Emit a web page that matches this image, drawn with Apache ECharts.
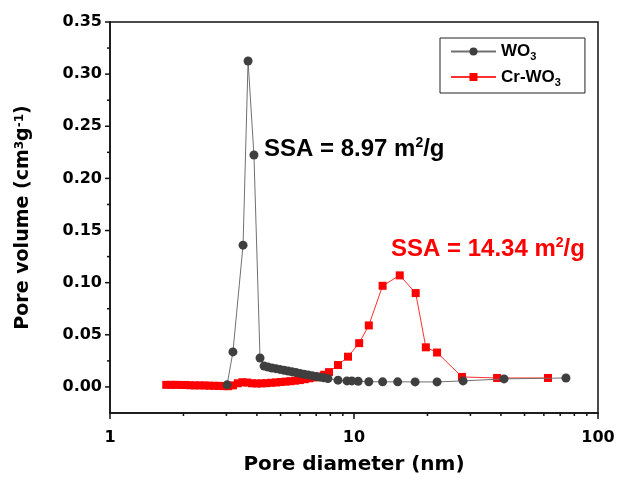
<!DOCTYPE html>
<html>
<head>
<meta charset="utf-8">
<script src="https://cdn.jsdelivr.net/npm/echarts@6/dist/echarts.min.js"></script>
<style>
  html, body { margin: 0; padding: 0; background: #fff; }
  #chart { width: 619px; height: 480px; }
</style>
</head>
<body>
<div id="chart"></div>
<script>
// pore size distribution
var wo3X = [3.02, 3.19, 3.51, 3.68, 3.89, 4.12, 4.28, 4.44, 4.61, 4.79, 4.97, 5.17, 5.37, 5.57, 5.78, 6.01, 6.24, 6.48, 6.73, 6.99, 7.26, 7.52, 7.82, 8.6, 9.36, 9.8, 10.4, 11.5, 13.1, 15.1, 17.8, 21.9, 28.0, 41.2, 73.9];
var wo3Y = [0.002, 0.0336, 0.136, 0.3126, 0.2224, 0.0278, 0.0200, 0.0190, 0.0182, 0.0175, 0.0168, 0.0160, 0.0152, 0.0145, 0.0138, 0.0130, 0.0122, 0.0115, 0.0108, 0.0100, 0.0094, 0.0088, 0.0080, 0.0065, 0.0058, 0.0058, 0.0055, 0.0050, 0.0049, 0.0049, 0.0048, 0.0048, 0.0058, 0.0077, 0.0086];

var crX = [1.70, 1.78, 1.86, 1.95, 2.04, 2.13, 2.23, 2.33, 2.44, 2.55, 2.67, 2.79, 2.92, 3.05, 3.19, 3.34, 3.49, 3.65, 3.82, 4.00, 4.18, 4.37, 4.58, 4.79, 5.01, 5.24, 5.48, 5.74, 6.00, 6.28, 6.57, 6.88, 7.20, 7.55, 7.90, 8.6, 9.45, 10.5, 11.5, 13.1, 15.4, 17.9, 19.7, 21.9, 27.7, 38.6, 62.4];
var crY = [0.0020, 0.0020, 0.0020, 0.0019, 0.0019, 0.0016, 0.0015, 0.0015, 0.0014, 0.0012, 0.0011, 0.0010, 0.0008, 0.0007, 0.0015, 0.0035, 0.0045, 0.0042, 0.0035, 0.0033, 0.0034, 0.0036, 0.0040, 0.0043, 0.0047, 0.0051, 0.0055, 0.0060, 0.0066, 0.0074, 0.0083, 0.0091, 0.0100, 0.0117, 0.0142, 0.021, 0.029, 0.042, 0.059, 0.097, 0.107, 0.090, 0.038, 0.033, 0.0096, 0.0086, 0.0086];

var yTicks = [0, 0.05, 0.10, 0.15, 0.20, 0.25, 0.30, 0.35];
var yMinorTicks = [0.025, 0.075, 0.125, 0.175, 0.225, 0.275, 0.325];
var xTicks = [1, 10, 100];
var xMinorTicks = [2, 3, 4, 5, 6, 7, 8, 9, 20, 30, 40, 50, 60, 70, 80, 90];

var yMin = -0.025, yMax = 0.35, xMin = 1, xMax = 100;

function zip(xs, ys) {
    return xs.map(function (x, i) { return [x, ys[i]]; });
}

// short tick marks drawn through the axes' own scales
function tickSeries(values, isX, len) {
    return {
        type: 'custom',
        silent: true,
        clip: false,
        z: 5,
        data: values.map(function (v) { return isX ? [v, yMin] : [xMin, v]; }),
        renderItem: function (params, api) {
            var p = api.coord([api.value(0), api.value(1)]);
            var shape = isX
                ? { x1: p[0], y1: p[1], x2: p[0], y2: p[1] + len }
                : { x1: p[0], y1: p[1], x2: p[0] - len, y2: p[1] };
            return { type: 'line', shape: shape, style: { stroke: '#111', lineWidth: 1.5 } };
        }
    };
}

var axisFont = 'DejaVu Sans';
var txtFont = 'Liberation Sans';

var chart = echarts.init(document.getElementById('chart'));

chart.setOption({
    animation: false,
    grid: {
        left: 110,
        right: 21,
        top: 22,
        bottom: 67,
        show: true,
        borderColor: '#111',
        borderWidth: 1.5
    },
    legend: {
        orient: 'vertical',
        left: 440,
        top: 38,
        padding: [5, 24, 5, 10],
        itemGap: 6,
        itemWidth: 45,
        itemHeight: 10,
        borderColor: '#222',
        borderWidth: 1,
        data: ['WO3', 'Cr-WO3'],
        formatter: function (name) {
            return name === 'WO3' ? '{b|WO}{s|3}' : '{b|Cr-WO}{s|3}';
        },
        textStyle: {
            rich: {
                b: { fontFamily: txtFont, fontWeight: 'bold', fontSize: 17, color: '#000', lineHeight: 22 },
                s: { fontFamily: txtFont, fontWeight: 'bold', fontSize: 11, color: '#000', lineHeight: 22, verticalAlign: 'bottom' }
            }
        }
    },
    xAxis: {
        type: 'log',
        logBase: 10,
        min: xMin,
        max: xMax,
        name: 'Pore diameter (nm)',
        nameLocation: 'middle',
        nameGap: 42,
        nameTextStyle: { fontFamily: axisFont, fontWeight: 'bold', fontSize: 20, color: '#000' },
        axisLine: { show: true, onZero: false, lineStyle: { color: '#111', width: 1.5 } },
        axisTick: { show: false },
        axisLabel: {
            customValues: xTicks,
            margin: 17,
            fontFamily: axisFont, fontWeight: 'bold', fontSize: 16, color: '#000'
        },
        splitLine: { show: false }
    },
    yAxis: {
        type: 'value',
        min: yMin,
        max: yMax,
        interval: 0.025,
        name: 'Pore volume (cm{sup|3}g{sup|-1})',
        nameLocation: 'middle',
        nameGap: 77,
        nameTextStyle: {
            fontFamily: axisFont, fontWeight: 'bold', fontSize: 19, color: '#000',
            rich: {
                sup: { fontFamily: axisFont, fontWeight: 'bold', fontSize: 12, color: '#000', verticalAlign: 'top', lineHeight: 12 }
            }
        },
        axisLine: { show: true, onZero: false, lineStyle: { color: '#111', width: 1.5 } },
        axisTick: { show: false },
        axisLabel: {
            customValues: yTicks,
            margin: 8,
            formatter: function (v) { return v.toFixed(2); },
            fontFamily: axisFont, fontWeight: 'bold', fontSize: 16, color: '#000'
        },
        splitLine: { show: false }
    },
    graphic: [
        {
            type: 'text',
            left: 264,
            top: 136,
            style: {
                text: '{a|SSA = 8.97 m}{p|2}{a|/g}',
                rich: {
                    a: { fontFamily: txtFont, fontWeight: 'bold', fontSize: 24, fill: '#000', lineHeight: 27 },
                    p: { fontFamily: txtFont, fontWeight: 'bold', fontSize: 14, fill: '#000', lineHeight: 14, verticalAlign: 'top' }
                }
            }
        },
        {
            type: 'text',
            left: 391,
            top: 236,
            style: {
                text: '{a|SSA = 14.34 m}{p|2}{a|/g}',
                rich: {
                    a: { fontFamily: txtFont, fontWeight: 'bold', fontSize: 24, fill: '#ff0000', lineHeight: 27 },
                    p: { fontFamily: txtFont, fontWeight: 'bold', fontSize: 14, fill: '#ff0000', lineHeight: 14, verticalAlign: 'top' }
                }
            }
        }
    ],
    series: [
        {
            name: 'WO3',
            type: 'line',
            data: zip(wo3X, wo3Y),
            symbol: 'circle',
            symbolSize: 9,
            z: 3,
            lineStyle: { color: '#707070', width: 1 },
            itemStyle: { color: '#3f3f3f' }
        },
        {
            name: 'Cr-WO3',
            type: 'line',
            data: zip(crX, crY),
            symbol: 'rect',
            symbolSize: 8,
            z: 2,
            lineStyle: { color: '#ff3030', width: 1 },
            itemStyle: { color: '#ff0000' }
        },
        tickSeries(xTicks, true, 6),
        tickSeries(xMinorTicks, true, 3),
        tickSeries(yTicks, false, 5),
        tickSeries(yMinorTicks, false, 3)
    ]
});
</script>
</body>
</html>
